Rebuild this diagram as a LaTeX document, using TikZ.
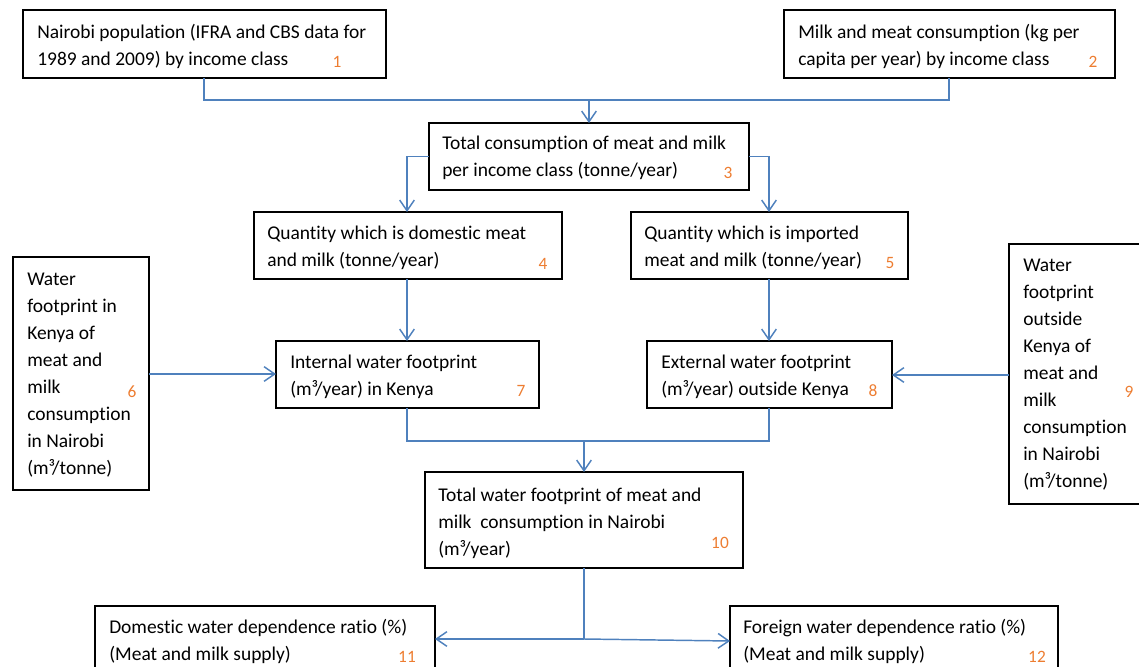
\documentclass[tikz,border=0pt]{standalone}
\usepackage{fontspec}
\setmainfont{Carlito}[Ligatures=NoCommon]
\usetikzlibrary{arrows.meta}
\definecolor{connc}{RGB}{79,129,189}
\definecolor{numc}{RGB}{237,125,49}
\tikzset{
  box/.style={draw=black, line width=1.1pt, anchor=north west, inner sep=0pt, outer sep=0pt},
  txt/.style={anchor=base west, align=left, inner sep=0pt, font=\fontsize{14.6}{20.2}\selectfont},
  num/.style={anchor=base, inner sep=0pt, text=numc, font=\fontsize{13}{15}\selectfont},
  conn/.style={draw=connc, line width=1.1pt},
  arr/.style={conn, -{Straight Barb[length=8pt,width=11pt,line width=1.1pt]}}
}
\newcommand\fbx[5]{\node[box, minimum width={(#4-#2)*0.75pt}, minimum height={(#5-#3)*0.75pt}] (#1) at (#2,-#3) {};}
\begin{document}
\begin{tikzpicture}[x=0.75pt,y=0.75pt]
\useasboundingbox (0,0) rectangle (1139,-667);
\clip (0,0) rectangle (1139,-667);
% boxes
\fbx{b1}{23}{10}{386}{78}
\fbx{b2}{784}{10}{1115}{78}
\fbx{b3}{429}{123}{749}{190}
\fbx{b4}{254}{212}{562}{279}
\fbx{b5}{631}{212}{908}{279}
\fbx{b6}{13}{257}{149}{490}
\fbx{b7}{276}{341}{539}{408}
\fbx{b8}{647}{341}{892}{408}
\fbx{b9}{1009}{244}{1160}{504}
\fbx{b10}{425}{472}{743}{568}
\fbx{b11}{95}{606}{435}{690}
\fbx{b12}{730}{606}{1058}{690}
% texts (anchored at the baseline of their last line)
\node[txt] (t1) at (37,-65) {Nairobi population (IFRA and CBS data for\\1989 and 2009) by income class};
\node[txt] (t2) at (798,-65) {Milk and meat consumption (kg per\\capita per year) by income class};
\node[txt] (t3) at (442,-176) {Total consumption of meat and milk\\per income class (tonne/year)};
\node[txt] (t4) at (267,-266) {Quantity which is domestic meat\\and milk (tonne/year)};
\node[txt] (t5) at (644,-266) {Quantity which is imported\\meat and milk (tonne/year)};
\node[txt] (t6) at (27,-474.5) {Water\\footprint in\\Kenya of\\meat and\\milk\\consumption\\in Nairobi\\(m³/tonne)};
\node[txt] (t7) at (290,-395) {Internal water footprint\\(m³/year) in Kenya};
\node[txt] (t8) at (661,-395) {External water footprint\\(m³/year) outside Kenya};
\node[txt] (t9) at (1023,-487.4) {Water\\footprint\\outside\\Kenya of\\meat and\\milk\\consumption\\in Nairobi\\(m³/tonne)};
\node[txt] (t10) at (438,-555) {Total water footprint of meat and\\milk\ \ consumption in Nairobi\\(m³/year)};
\node[txt] (t11) at (109,-660) {Domestic water dependence ratio (\%)\\(Meat and milk supply)};
\node[txt] (t12) at (743,-660) {Foreign water dependence ratio (\%)\\(Meat and milk supply)};
% numbers
\node[num] (n1) at (337,-68) {1};
\node[num] (n2) at (1093,-68) {2};
\node[num] (n3) at (728,-178) {3};
\node[num] (n4) at (543,-269) {4};
\node[num] (n5) at (890,-268) {5};
\node[num] (n6) at (132,-397) {6};
\node[num] (n7) at (521,-396) {7};
\node[num] (n8) at (873,-396) {8};
\node[num] (n9) at (1129,-397) {9};
\node[num] (n10) at (720,-548) {10};
\node[num] (n11) at (407,-662) {11};
\node[num] (n12) at (1037,-662) {12};
% connectors
\coordinate (j1) at (589,-100);
\coordinate (j2) at (584,-441);
\coordinate (j3) at (584,-639);
\draw[conn] (b1.south -| 204,0) |- (j1) -| (b2.south -| 949,0);
\draw[arr] (j1) -- (j1 |- b3.north);
\draw[arr] (b3.west) -| (407,-212);
\draw[arr] (b3.east) -| (769,-212);
\draw[arr] (407,-279) -- (407,-341);
\draw[arr] (769,-279) -- (769,-341);
\draw[arr] (b6.east |- 0,-374) -- (b7.west |- 0,-374);
\draw[arr] (b9.west |- 0,-375) -- (b8.east |- 0,-375);
\draw[conn] (407,-408) |- (j2) -| (769,-408);
\draw[arr] (j2) -- (j2 |- b10.north);
\draw[conn] (j2 |- b10.south) -- (j3);
\draw[arr] (j3) -- (b11.east |- j3);
\draw[arr] (j3) -- (b12.west |- 0,-641);
\end{tikzpicture}
\end{document}
